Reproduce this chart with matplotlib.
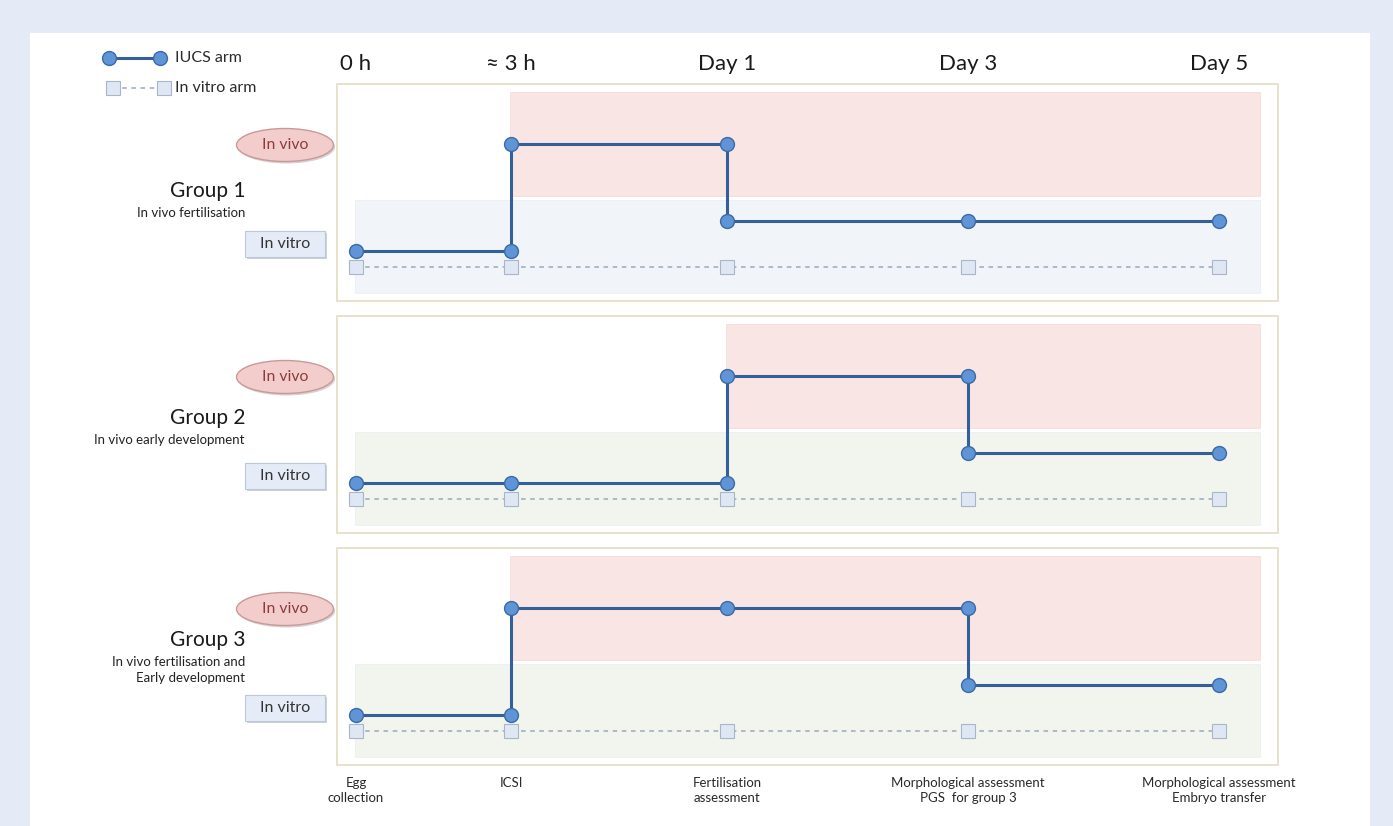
import numpy as np
import matplotlib.pyplot as plt
from matplotlib.patches import Rectangle, Ellipse

plt.rcParams['font.family'] = ['Lato', 'DejaVu Sans']

# ---- data ----
time_labels = ['0 h', '\u2248 3 h', 'Day 1', 'Day 3', 'Day 5']
stage_labels = ['Egg\ncollection', 'ICSI', 'Fertilisation\nassessment',
                'Morphological assessment\nPGS  for group 3',
                'Morphological assessment\nEmbryo transfer']
group_names = ['Group 1', 'Group 2', 'Group 3']
group_notes = ['In vivo fertilisation', 'In vivo early development',
               'In vivo fertilisation and\nEarly development']

# IUCS arm: (stage index, where the egg/embryo is)
group1_path = [(0, 'before'), (1, 'before'), (1, 'vivo'), (2, 'vivo'),
               (2, 'after'), (3, 'after'), (4, 'after')]
group2_path = [(0, 'before'), (1, 'before'), (2, 'before'), (2, 'vivo'),
               (3, 'vivo'), (3, 'after'), (4, 'after')]
group3_path = [(0, 'before'), (1, 'before'), (1, 'vivo'), (2, 'vivo'),
               (3, 'vivo'), (3, 'after'), (4, 'after')]
paths = [group1_path, group2_path, group3_path]

# in vitro arm visits every stage
vitro_stages = [0, 1, 2, 3, 4]

# ---- layout ----
W, H = 1393, 826
TIMELINE_X = [0, 155, 371, 612, 863]     # pixels from egg collection
ORIGIN_X = 356
LEVEL_Y = {'arm': 0, 'before': 16, 'after': 46, 'vivo': 123}
PANEL_TOPS = [84, 316, 548]
PANEL_LEFT, PANEL_W, PANEL_H = 337, 941, 217
BAND_RIGHT = 904
LABEL_Y = [76, 81, 91]
NOTE_Y = [54, 59, 61]
LOWER_BAND_COLORS = ['#f1f4f9', '#f2f5ee', '#f2f5ee']

LINE_C = '#34609a'
DOT_FACE = '#5f94d6'
DOT_EDGE = '#3b6aa6'
SQ_FACE = '#dfe7f4'
SQ_EDGE = '#a9b6c8'
DASH_C = '#98aabf'
PINK = '#f9e6e4'
BORDER = '#e6e2cb'

fig = plt.figure(figsize=(W / 100, H / 100), dpi=100, facecolor='#e5ebf6')

# overlay in figure pixels for page, legend, headers, footer labels
ov = fig.add_axes([0, 0, 1, 1])
ov.set_xlim(0, W)
ov.set_ylim(H, 0)
ov.axis('off')
ov.add_patch(Rectangle((30, 33), 1340, H - 33, facecolor='white', edgecolor='none'))

# legend
ov.plot([109, 160], [58, 58], color=LINE_C, lw=2.2, marker='o', ms=10,
        mfc=DOT_FACE, mec=DOT_EDGE, mew=1)
ov.text(175, 58, 'IUCS arm', fontsize=11.5, va='center', color='#2a2a2a')
ov.plot([113, 164], [88, 88], color=DASH_C, lw=1.1, ls=(0, (3, 3)), marker='s',
        ms=9.5, mfc=SQ_FACE, mec=SQ_EDGE, mew=0.8)
ov.text(175, 88, 'In vitro arm', fontsize=11.5, va='center', color='#2a2a2a')

for i in range(len(time_labels)):
    x = ORIGIN_X + TIMELINE_X[i]
    ov.text(x, 64, time_labels[i], fontsize=16, ha='center', va='center', color='#1a1a1a')
    ov.text(x, 777, stage_labels[i], fontsize=9.5, ha='center', va='top',
            linespacing=1.3, color='#2a2a2a')

for g in range(3):
    top = PANEL_TOPS[g]
    ax = fig.add_axes([PANEL_LEFT / W, (H - top - PANEL_H) / H, PANEL_W / W, PANEL_H / H])
    ax.set_xlim(-(ORIGIN_X - PANEL_LEFT), PANEL_W - (ORIGIN_X - PANEL_LEFT))
    ax.set_ylim(-(PANEL_H - 183), 183)
    ax.set_xticks([])
    ax.set_yticks([])
    for s in ax.spines.values():
        s.set_color(BORDER)
        s.set_linewidth(1.4)

    path = paths[g]
    vivo_start = min(st for st, loc in path if loc == 'vivo')
    x0 = TIMELINE_X[vivo_start] - 1
    ax.add_patch(Rectangle((x0, 71), BAND_RIGHT - x0, 104, facecolor=PINK,
                           edgecolor='#f3dedb', lw=0.6, zorder=0))
    ax.add_patch(Rectangle((-1, -26), BAND_RIGHT + 1, 93, facecolor=LOWER_BAND_COLORS[g],
                           edgecolor='#eceff2', lw=0.6, zorder=0))

    # in vitro arm
    vx = [TIMELINE_X[s] for s in vitro_stages]
    vy = [LEVEL_Y['arm']] * len(vitro_stages)
    ax.plot(vx, vy, color=DASH_C, lw=1.1, ls=(0, (3, 3)), zorder=2)
    ax.plot(vx, vy, ls='none', marker='s', ms=9.5, mfc=SQ_FACE, mec=SQ_EDGE, mew=0.8, zorder=3)

    # IUCS arm
    px = [TIMELINE_X[st] for st, loc in path]
    py = [LEVEL_Y[loc] for st, loc in path]
    ax.plot(px, py, color=LINE_C, lw=2.2, zorder=4, solid_joinstyle='miter')
    ax.plot(px, py, ls='none', marker='o', ms=10, mfc=DOT_FACE, mec=DOT_EDGE, mew=1, zorder=5)

    # left side labels
    ex, ey = -71, LEVEL_Y['vivo'] - 1
    ax.add_patch(Ellipse((ex + 1.5, ey - 2), 97, 33, facecolor='#d9d0d0', edgecolor='none',
                         clip_on=False, zorder=1))
    ax.add_patch(Ellipse((ex, ey), 97, 33, facecolor='#f2cdcb', edgecolor='#c79a98',
                         lw=1, clip_on=False, zorder=2))
    ax.text(ex, ey, 'In vivo', fontsize=11.3, ha='center', va='center', color='#8a3b3b',
            clip_on=False, zorder=3)

    bx, by = -111, 10
    ax.add_patch(Rectangle((bx + 1.5, by - 2), 80, 26, facecolor='#cdd2d8', edgecolor='none',
                           clip_on=False, zorder=1))
    ax.add_patch(Rectangle((bx, by), 80, 26, facecolor='#e5ecf7', edgecolor='#bcc8d8',
                           lw=0.8, clip_on=False, zorder=2))
    ax.text(bx + 40, by + 13, 'In vitro', fontsize=11.5, ha='center', va='center',
            color='#333333', clip_on=False, zorder=3)

    ax.text(-111, LABEL_Y[g], group_names[g], fontsize=15, ha='right', va='center',
            color='#1a1a1a', clip_on=False)
    ax.text(-111, NOTE_Y[g], group_notes[g], fontsize=9.5, ha='right', va='center',
            linespacing=1.3, color='#222222', clip_on=False)

fig.savefig('out.png', dpi=100, facecolor=fig.get_facecolor())
